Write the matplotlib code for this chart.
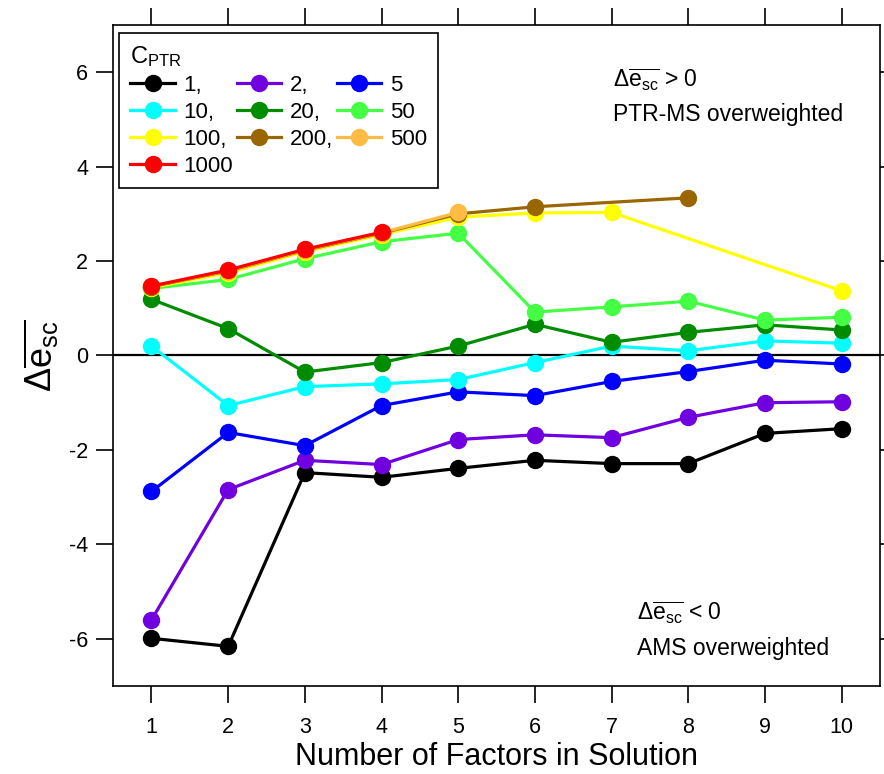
import numpy as np
import matplotlib
matplotlib.use("Agg")
import matplotlib.pyplot as plt

plt.rcParams['font.family'] = ['Liberation Sans', 'DejaVu Sans']
plt.rcParams['mathtext.fontset'] = 'custom'
plt.rcParams['mathtext.rm'] = 'Liberation Sans'
plt.rcParams['mathtext.it'] = 'Liberation Sans'
plt.rcParams['mathtext.bf'] = 'Liberation Sans:bold'
plt.rcParams['axes.unicode_minus'] = False

# number of factors
factors = list(range(1, 11))

# delta e_sc per C_PTR (None = no point)
c1 = [-5.99, -6.16, -2.48, -2.58, -2.39, -2.22, -2.29, -2.29, -1.65, -1.55]
c2 = [-5.60, -2.84, -2.22, -2.31, -1.78, -1.68, -1.74, -1.31, -1.00, -0.98]
c5 = [-2.88, -1.63, -1.91, -1.06, -0.77, -0.85, -0.55, -0.34, -0.10, -0.18]
c10 = [0.20, -1.06, -0.66, -0.60, -0.51, -0.15, 0.20, 0.10, 0.31, 0.26]
c20 = [1.19, 0.57, -0.35, -0.15, 0.20, 0.66, 0.28, 0.49, 0.65, 0.54]
c50 = [1.42, 1.61, 2.05, 2.41, 2.59, 0.92, 1.03, 1.15, 0.75, 0.81]
c100 = [1.44, 1.75, 2.20, 2.56, 2.93, 3.02, 3.03, None, None, 1.37]
c200 = [1.46, 1.79, 2.23, 2.59, 3.00, 3.15, None, 3.34, None, None]
c500 = [1.47, 1.80, 2.24, 2.60, 3.03, None, None, None, None, None]
c1000 = [1.47, 1.81, 2.25, 2.61, None, None, None, None, None, None]

series = [c1, c2, c5, c10, c20, c50, c100, c200, c500, c1000]
labels = ['1,', '2,', '5', '10,', '20,', '50', '100,', '200,', '500', '1000']
colors = ['#000000', '#7000E0', '#0000FF', '#00FFFF', '#008C00',
          '#44FF44', '#FFFF00', '#996600', '#FFBB44', '#FF0000']

fig = plt.figure(figsize=(8.84, 7.74), dpi=100)
ax = fig.add_axes([0.128, 0.1137, 0.8675, 0.854])

ax.axhline(0, color='black', lw=1.6, zorder=1)

handles = []
for vals, lab, col in zip(series, labels, colors):
    xs = [x for x, v in zip(factors, vals) if v is not None]
    ys = [v for v in vals if v is not None]
    h, = ax.plot(xs, ys, '-o', color=col, lw=2.3, ms=11.5, label=lab, zorder=2)
    handles.append(h)

ax.set_xlim(0.5, 10.5)
ax.set_ylim(-7, 7)
ax.set_xticks(factors)
ax.set_yticks(np.arange(-6, 7, 2))
ax.tick_params(axis='both', direction='out', length=12, width=1.2,
               labelsize=15.5, top=True, right=True)
ax.tick_params(axis='x', pad=10)
ax.tick_params(axis='y', pad=6)
for s in ax.spines.values():
    s.set_linewidth(1.2)

ax.set_xlabel('Number of Factors in Solution', fontsize=22, labelpad=3)
ax.set_ylabel(r'$\Delta\overline{\mathrm{e}_{\mathrm{sc}}}$', fontsize=26, labelpad=6)

ax.text(0.652, 0.917, r'$\Delta\overline{\mathrm{e}_{\mathrm{sc}}}$ > 0', transform=ax.transAxes,
        fontsize=16.5, va='center', ha='left')
ax.text(0.652, 0.864, 'PTR-MS overweighted', transform=ax.transAxes,
        fontsize=16.5, va='center', ha='left')
ax.text(0.683, 0.11, r'$\Delta\overline{\mathrm{e}_{\mathrm{sc}}}$ < 0', transform=ax.transAxes,
        fontsize=16.5, va='center', ha='left')
ax.text(0.683, 0.056, 'AMS overweighted', transform=ax.transAxes,
        fontsize=16.5, va='center', ha='left')

order = [0, 3, 6, 9, 1, 4, 7, 2, 5, 8]
leg = ax.legend([handles[i] for i in order], [labels[i] for i in order],
                ncol=3, loc='upper left', bbox_to_anchor=(0.008, 0.988),
                title=r'C$_{\mathrm{PTR}}$', alignment='left',
                fontsize=16, title_fontsize=17, frameon=True, fancybox=False,
                edgecolor='black', framealpha=1, handlelength=2.0,
                handletextpad=0.4, columnspacing=0.15, labelspacing=0.27,
                borderpad=0.5, borderaxespad=0)
leg.get_frame().set_linewidth(1.2)

fig.savefig('out.png', dpi=100)
